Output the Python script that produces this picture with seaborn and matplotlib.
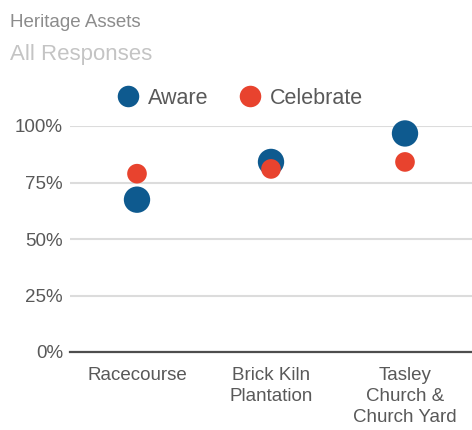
import matplotlib
matplotlib.use("Agg")
import matplotlib.pyplot as plt
from matplotlib.lines import Line2D
from matplotlib.ticker import PercentFormatter
import pandas as pd
import seaborn as sns

categories = ["Racecourse", "Brick Kiln\nPlantation", "Tasley\nChurch &\nChurch Yard"]
aware = [0.674, 0.841, 0.967]
celebrate = [0.789, 0.810, 0.841]
series_names = ["Aware", "Celebrate"]
y_ticks = [0, 0.25, 0.5, 0.75, 1.0]

colors = {"Aware": "#0e5a8f", "Celebrate": "#e8432e"}
sizes = {"Aware": 360, "Celebrate": 200}

df = pd.DataFrame({
    "category": categories * 2,
    "value": aware + celebrate,
    "series": ["Aware"] * len(categories) + ["Celebrate"] * len(categories),
})

sns.set_theme(style="white")
plt.rcParams["font.family"] = ["Liberation Sans", "DejaVu Sans"]

fig = plt.figure(figsize=(4.72, 4.30), dpi=100)
ax = fig.add_axes([70 / 472, 78 / 430, 402 / 472, 226 / 430])

sns.scatterplot(
    data=df, x="category", y="value", hue="series", size="series",
    palette=colors, sizes=sizes, hue_order=series_names, size_order=series_names,
    linewidth=0, alpha=1, legend=False, ax=ax, clip_on=False, zorder=3,
)

ax.set_xlim(-0.5, len(categories) - 0.5)
ax.set_ylim(0, 1.0)
ax.set_yticks(y_ticks)
ax.yaxis.set_major_formatter(PercentFormatter(1.0, decimals=0))
ax.set_xlabel("")
ax.set_ylabel("")

ax.grid(axis="y", color="#dcdcdc", linewidth=1.5, zorder=0)
ax.grid(axis="x", visible=False)
for side in ["top", "right", "left"]:
    ax.spines[side].set_visible(False)
ax.spines["bottom"].set_color("#4d4d4d")
ax.spines["bottom"].set_linewidth(1.6)
ax.spines["bottom"].set_zorder(2)

ax.tick_params(axis="y", length=0, pad=5, labelsize=13.5, labelcolor="#595959")
ax.tick_params(axis="x", length=0, pad=11, labelsize=13.5, labelcolor="#595959")
for lbl in ax.get_xticklabels():
    lbl.set_linespacing(1.3)
    lbl.set_horizontalalignment("center")

handles = [
    Line2D([], [], marker="o", linestyle="", markersize=15.5,
           markerfacecolor=colors[s], markeredgewidth=0)
    for s in series_names
]
fig.legend(handles, series_names, loc="center", bbox_to_anchor=(240 / 472, 1 - 98 / 430),
           ncol=2, frameon=False, fontsize=15.5, labelcolor="#595959",
           handlelength=1.0, handletextpad=0.45, columnspacing=1.4)

fig.text(10 / 472, 1 - 14 / 430, "Heritage Assets", ha="left", va="top",
         fontsize=13.5, color="#8c8c8c")
fig.text(10 / 472, 1 - 44 / 430, "All Responses", ha="left", va="top",
         fontsize=16, color="#c4c4c4")

fig.savefig("out.png", dpi=100, facecolor="white")
